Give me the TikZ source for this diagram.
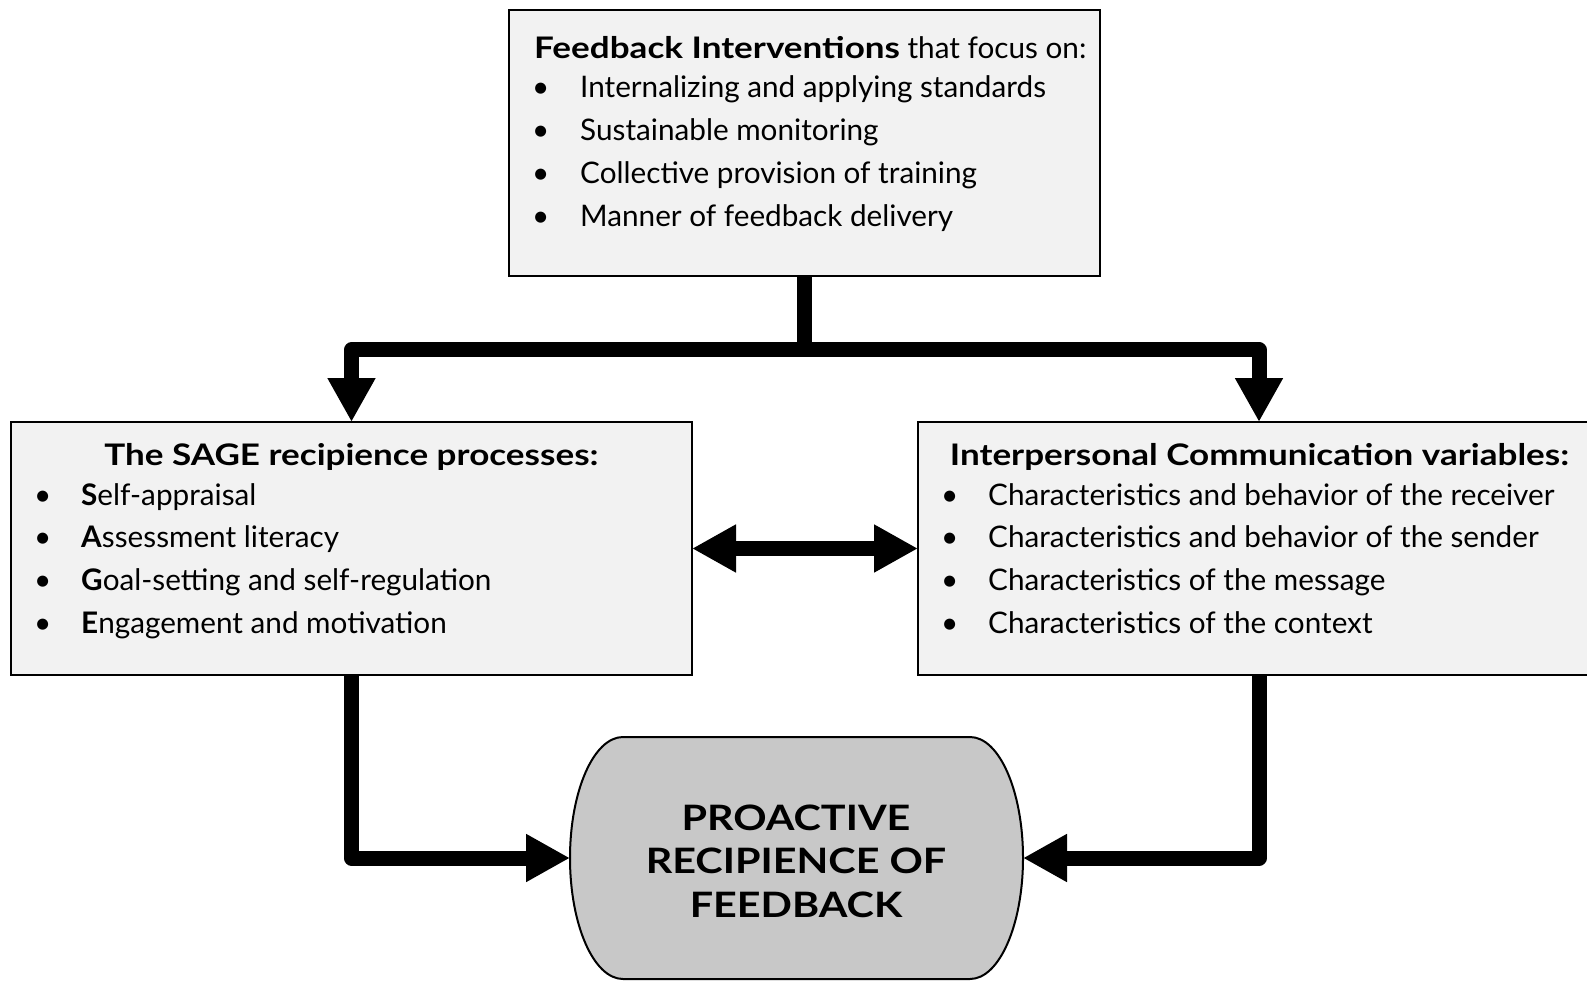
\documentclass[tikz,border=0pt]{standalone}
\usepackage{fontspec}
\setmainfont{Lato}
\usetikzlibrary{arrows.meta}
\definecolor{boxfill}{HTML}{F2F2F2}
\definecolor{outfill}{HTML}{C8C8C8}
\newcommand\bodyfnt{\fontsize{29.7}{34}\selectfont}
\newcommand\outfnt{\fontsize{35}{43.5}\selectfont\bfseries}
\newcommand\wideb[2][1.18]{\scalebox{#1}[1]{\textbf{#2}}}
\begin{document}
\begin{tikzpicture}[x=1pt,y=-1pt,
  box/.style={draw=black, line width=2pt, fill=boxfill, inner sep=0pt, outer sep=0pt, rectangle},
  conn/.style={line width=15pt, draw=black, line join=round},
  >={Triangle[length=44pt,width=45pt]},
  txt/.style={anchor=base west, inner sep=0pt, font=\bodyfnt},
  ttl/.style={anchor=base, inner sep=0pt, font=\bodyfnt},
  otx/.style={anchor=base, inner sep=0pt, font=\outfnt}
]
\useasboundingbox (0,0) rectangle (1587,981);
\clip (0,0) rectangle (1587,981);

% boxes
\node[box, minimum width=591pt, minimum height=266pt, anchor=north west] (top) at (509,10) {};
\node[box, minimum width=681pt, minimum height=253pt, anchor=north west] (left) at (11,422) {};
\node[box, minimum width=682pt, minimum height=253pt, anchor=north west] (right) at (918,422) {};

% outcome shape
\draw[line width=2pt, fill=outfill] (623,737) -- (970,737)
  arc[start angle=90, end angle=-90, x radius=53pt, y radius=121pt] -- (623,979)
  arc[start angle=270, end angle=90, x radius=53pt, y radius=121pt] -- cycle;
\node[minimum width=453pt, minimum height=242pt, inner sep=0pt, outer sep=0pt] (out) at (796.5,858) {};

% top box text
\node[txt] (t0) at (534,59) {\wideb{Feedback Interventions} that focus on:};
\node[txt] (tb1) at (532,98) {•};
\node[txt] (t1) at (580,98) {Internalizing and applying standards};
\node[txt] (tb2) at (532,141) {•};
\node[txt] (t2) at (580,141) {Sustainable monitoring};
\node[txt] (tb3) at (532,184) {•};
\node[txt] (t3) at (580,184) {Collective provision of training};
\node[txt] (tb4) at (532,227) {•};
\node[txt] (t4) at (580,227) {Manner of feedback delivery};

% left box text
\node[ttl] (l0) at (351.5,465) {\wideb{The SAGE recipience processes:}};
\node[txt] (lb1) at (34,505) {•};
\node[txt] (l1) at (81,505) {\textbf{S}elf-appraisal};
\node[txt] (lb2) at (34,547) {•};
\node[txt] (l2) at (81,547) {\textbf{A}ssessment literacy};
\node[txt] (lb3) at (34,590) {•};
\node[txt] (l3) at (81,590) {\textbf{G}oal-setting and self-regulation};
\node[txt] (lb4) at (34,633) {•};
\node[txt] (l4) at (81,633) {\textbf{E}ngagement and motivation};

% right box text
\node[ttl] (r0) at (1259.5,465) {\wideb{Interpersonal Communication variables:}};
\node[txt] (rb1) at (941,505) {•};
\node[txt] (r1) at (988,505) {Characteristics and behavior of the receiver};
\node[txt] (rb2) at (941,547) {•};
\node[txt] (r2) at (988,547) {Characteristics and behavior of the sender};
\node[txt] (rb3) at (941,590) {•};
\node[txt] (r3) at (988,590) {Characteristics of the message};
\node[txt] (rb4) at (941,633) {•};
\node[txt] (r4) at (988,633) {Characteristics of the context};

% outcome text
\node[otx] (o1) at (796,830) {\scalebox{1.18}[1]{PROACTIVE}};
\node[otx] (o2) at (796,873) {\scalebox{1.18}[1]{RECIPIENCE OF}};
\node[otx] (o3) at (796,917) {\scalebox{1.18}[1]{FEEDBACK}};

% connectors
\coordinate (j) at (top.south |- 0,350);
\draw[conn] (top.south) -- (j);
\draw[conn, ->] (j) -| (left.north);
\draw[conn, ->] (j) -| (right.north);
\draw[conn, <->] (left.east) -- (right.west);
\draw[conn, ->] (left.south) |- (out.west);
\draw[conn, ->] (right.south) |- (out.east);
\end{tikzpicture}
\end{document}
